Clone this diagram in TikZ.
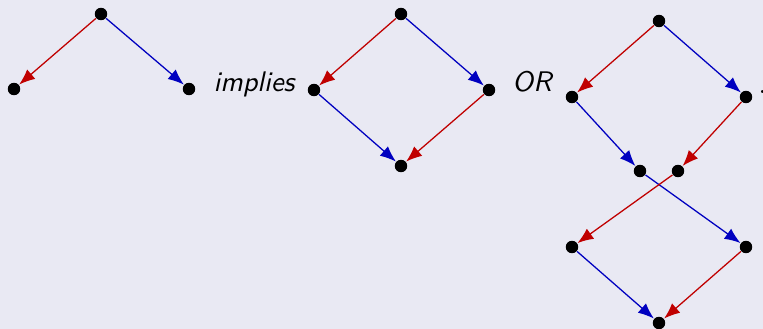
\documentclass[tikz,border=0pt]{standalone}
\usepackage{tikz}
\usetikzlibrary{arrows.meta}
\definecolor{slidebg}{RGB}{233,233,243}
\definecolor{redarc}{RGB}{192,0,0}
\definecolor{bluearc}{RGB}{0,0,192}

\begin{document}
\begin{tikzpicture}[x=0.0124cm,y=-0.0124cm,>={Latex[length=5.6pt,width=4.4pt]},
    vtx/.style={circle,fill=black,inner sep=0pt,minimum size=4.4pt},
    redline/.style={->,redarc,line width=0.45pt},
    blueline/.style={->,bluearc,line width=0.45pt},
    word/.style={anchor=base,font=\sffamily\itshape}]
    \fill[slidebg] (0,0) rectangle (763,329);
    \useasboundingbox (0,0) rectangle (763,329);
    % left picture
    \foreach \n/\x/\y in {a/101/14,al/14/89,ar/189/89}
    {
        \node[vtx] (\n) at (\x,\y) {};
    }
    % closed diamond
    \foreach \n/\x/\y in {b/401/14,bl/314/90,br/489/90,bb/401/166}
    {
        \node[vtx] (\n) at (\x,\y) {};
    }
    % crossed double diamond
    \foreach \n/\x/\y in {c/659/21,cl/572/97,cr/746/97,cbl/640/171,cbr/678/171,
                         dl/572/247,dr/746/247,db/659/323}
    {
        \node[vtx] (\n) at (\x,\y) {};
    }
    \node[word] (impl) at (254,92) {implies};
    \node[word] (or) at (532,92) {OR};
    \node[anchor=base west,inner sep=0pt] (dots) at (758,94) {.};
    \draw[redline] (a) -- (al);
    \draw[blueline] (a) -- (ar);
    \draw[redline] (b) -- (bl);
    \draw[blueline] (b) -- (br);
    \draw[blueline] (bl) -- (bb);
    \draw[redline] (br) -- (bb);
    \draw[redline] (c) -- (cl);
    \draw[blueline] (c) -- (cr);
    \draw[blueline] (cl) -- (cbl);
    \draw[redline] (cr) -- (cbr);
    \draw[blueline] (cbl) -- (dr);
    \draw[redline] (cbr) -- (dl);
    \draw[blueline] (dl) -- (db);
    \draw[redline] (dr) -- (db);
\end{tikzpicture}
\end{document}
